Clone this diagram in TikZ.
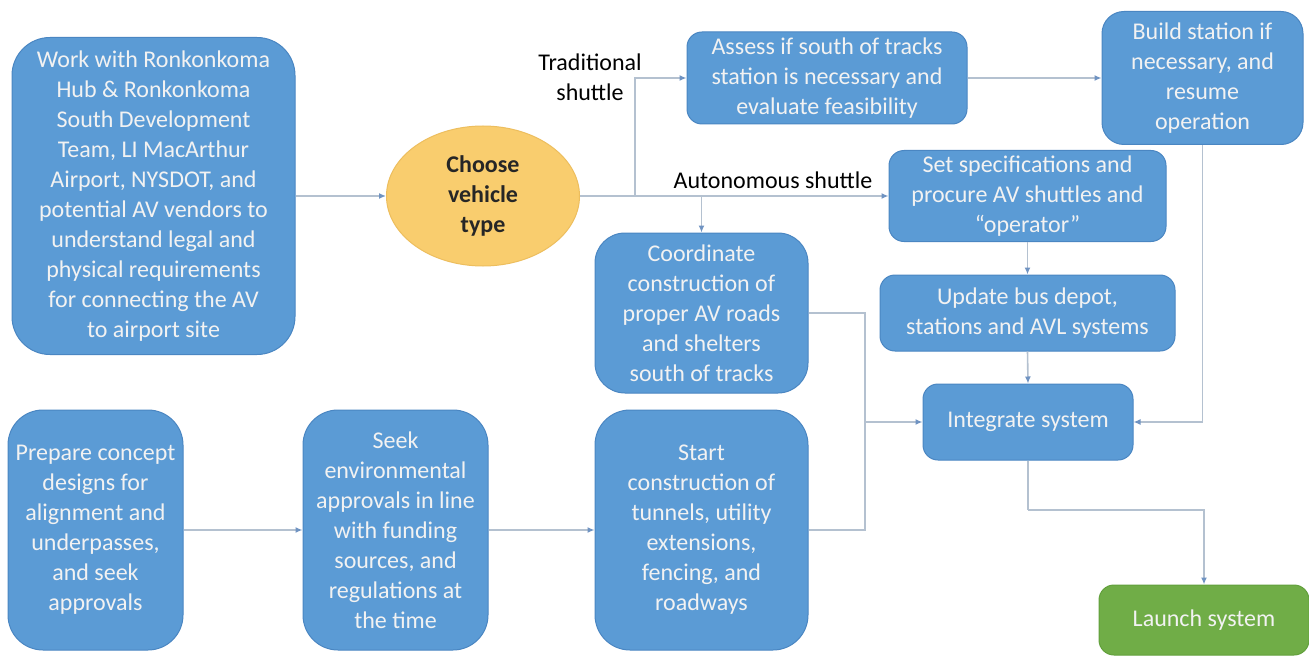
\documentclass[tikz,border=0pt]{standalone}
\usepackage{fontspec}
\setmainfont{Carlito}
\usetikzlibrary{arrows.meta,shapes.geometric}
\definecolor{boxblue}{HTML}{5B9BD5}
\definecolor{boxedge}{HTML}{4A86C2}
\definecolor{gold}{HTML}{F9CD6E}
\definecolor{goldedge}{HTML}{EDBE5E}
\definecolor{grn}{HTML}{70AD47}
\definecolor{grnedge}{HTML}{62A03C}
\definecolor{linec}{HTML}{B4C1D0}
\definecolor{tipc}{HTML}{6F93C2}
\begin{document}
\begin{tikzpicture}[x=1pt,y=-1pt,
  every node/.style={font=\fontsize{24}{30}\selectfont},
  bluebox/.style={rectangle, fill=boxblue, draw=boxedge, line width=1pt, text=white!95!black, align=center, inner sep=0pt},
  bigbox/.style={bluebox, rounded corners=38pt},
  smallbox/.style={bluebox, rounded corners=15pt},
  conn/.style={draw=linec, line width=1.6pt},
  arr/.style={conn, -{Latex[length=7pt,width=6pt,fill=tipc,color=tipc]}},
  lbl/.style={text=black, align=center, inner sep=0pt}
]
\useasboundingbox (0,0) rectangle (1309,658);
\fill[white] (0,0) rectangle (1309,658);

% nodes
\node[bigbox, minimum width=283pt, minimum height=317pt] (work) at (153.5,196)
 {Work with Ronkonkoma\\Hub \& Ronkonkoma\\South Development\\Team, LI MacArthur\\Airport, NYSDOT, and\\potential AV vendors to\\understand legal and\\physical requirements\\for connecting the AV\\to airport site};
\node[ellipse, fill=gold, draw=goldedge, line width=1pt, minimum width=193pt, minimum height=140pt, inner sep=0pt, align=center, text=black!85, font=\fontsize{24}{30}\selectfont\bfseries] (choose) at (483,196)
 {Choose\\vehicle\\type};
\node[smallbox, minimum width=280pt, minimum height=92pt] (assess) at (827,78)
 {Assess if south of tracks\\station is necessary and\\evaluate feasibility};
\node[smallbox, rounded corners=22pt, minimum width=201pt, minimum height=133pt] (build) at (1202.5,78)
 {Build station if\\necessary, and\\resume\\operation};
\node[smallbox, minimum width=277pt, minimum height=91pt] (setspec) at (1027.5,196)
 {Set specifications and\\procure AV shuttles and\\``operator''};
\node[bigbox, rounded corners=30pt, minimum width=213pt, minimum height=160pt] (coord) at (701.5,313)
 {Coordinate\\construction of\\proper AV roads\\and shelters\\south of tracks};
\node[smallbox, minimum width=295pt, minimum height=76pt] (update) at (1027.5,313)
 {Update bus depot,\\stations and AVL systems};
\node[smallbox, minimum width=210pt, minimum height=76pt] (integ) at (1028,422)
 {Integrate system};
\node[rectangle, rounded corners=15pt, fill=grn, draw=grnedge, line width=1pt, text=white!95!black, inner sep=0pt, minimum width=210pt, minimum height=70pt] (launch) at (1204,620)
 {Launch system};
\node[bigbox, rounded corners=35pt, minimum width=175pt, minimum height=240pt] (prep) at (95.5,530)
 {Prepare concept\\designs for\\alignment and\\underpasses,\\and seek\\approvals};
\node[bigbox, rounded corners=35pt, minimum width=185pt, minimum height=240pt] (seek) at (395.5,530)
 {Seek\\environmental\\approvals in line\\with funding\\sources, and\\regulations at\\the time};
\node[bigbox, rounded corners=35pt, minimum width=213pt, minimum height=240pt] (start) at (701.5,530)
 {Start\\construction of\\tunnels, utility\\extensions,\\fencing, and\\roadways};

% labels
\node[lbl] (trad) at (590,77) {Traditional\\shuttle};
\node[lbl] (auto) at (773,180) {Autonomous shuttle};

% junctions
\coordinate (j1) at (635,196);
\coordinate (j2) at (701.5,196);
\coordinate (j3) at (865,422);
\coordinate (j4) at (1028,510);

% connectors
\draw[arr] (work.east) -- (choose.west);
\draw[arr] (choose.east) -- (setspec.west);
\draw[arr] (j1) |- (assess.west);
\draw[arr] (j2) -- (coord.north);
\draw[arr] (assess.east) -- (build.west);
\draw[arr] (build.south) |- (integ.east);
\draw[arr] (setspec.south) -- (update.north);
\draw[arr] (update.south) -- (integ.north);
\draw[conn] (coord.east) -| (j3);
\draw[conn] (start.east) -| (j3);
\draw[arr] (j3) -- (integ.west);
\draw[conn] (integ.south) -- (j4);
\draw[arr] (j4) -| (launch.north);
\draw[arr] (prep.east) -- (seek.west);
\draw[arr] (seek.east) -- (start.west);
\end{tikzpicture}
\end{document}
